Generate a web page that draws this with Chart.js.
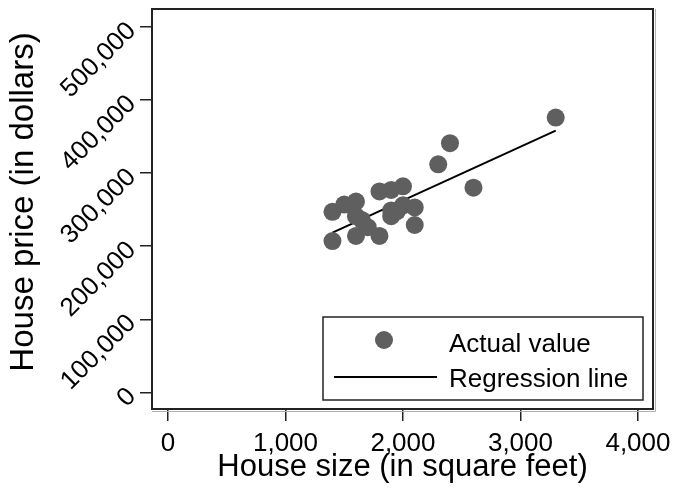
<!DOCTYPE html>
<html lang="en">
<head>
<meta charset="UTF-8">
<title>House price vs house size</title>
<script src="https://cdn.jsdelivr.net/npm/chart.js"></script>
<style>
  html, body { margin: 0; padding: 0; background: #fff; }
</style>
</head>
<body>
<canvas id="myChart" width="675" height="494"></canvas>
<script>
    // values
    var houseSize = [1400, 1400, 1500, 1600, 1600, 1650, 1600, 1800, 1800, 1900, 2000,
                     1900, 1900, 2000, 2100, 2100, 2300, 2400, 2600, 3300, 1700, 1950];
    var housePrice = [207000, 247000, 257000, 261000, 241000, 236000, 214000, 214000, 275000, 277000, 282000,
                      249000, 241000, 256000, 253000, 229000, 312000, 341000, 280000, 376000, 226000, 248000];
    var lineSize = [1400, 3300];
    var linePrice = [218600, 358000];
    var xTicks = [0, 1000, 2000, 3000, 4000];
    var yTicks = [0, 100000, 200000, 300000, 400000, 500000];
    var seriesLabels = ['Actual value', 'Regression line'];
    var yTitle = 'House price (in dollars)';

    var dotColor = '#5f5f5f';
    var font = 'Liberation Sans, Arial, sans-serif';

    function withCommas(v) {
        return String(v).replace(/\B(?=(\d{3})+(?!\d))/g, ',');
    }

    var points = houseSize.map(function (s, i) { return {x: s, y: housePrice[i]}; });
    var fitLine = lineSize.map(function (s, i) { return {x: s, y: linePrice[i]}; });

    // plot frame, y title and the legend box inside the plot
    var framePlugin = {
        id: 'frame',
        afterDraw: function (chart) {
            var ctx = chart.ctx;
            var a = chart.chartArea;
            ctx.save();
            ctx.strokeStyle = '#b0b0b0';
            ctx.lineWidth = 1;
            ctx.beginPath();
            ctx.moveTo(a.right + 2.5, a.top);
            ctx.lineTo(a.right + 2.5, a.bottom + 2.5);
            ctx.lineTo(a.left, a.bottom + 2.5);
            ctx.stroke();
            ctx.strokeStyle = '#222';
            ctx.lineWidth = 2;
            ctx.strokeRect(a.left, a.top, a.right - a.left, a.bottom - a.top);

            // y title, sits a bit above the middle of the plot
            ctx.save();
            ctx.translate(33, 202);
            ctx.rotate(-Math.PI / 2);
            ctx.fillStyle = '#000';
            ctx.font = '33px ' + font;
            ctx.textAlign = 'center';
            ctx.textBaseline = 'alphabetic';
            ctx.fillText(yTitle, 0, 0);
            ctx.restore();

            // legend
            var bx = a.left + 171, by = a.top + 308, bw = 320, bh = 83;
            ctx.fillStyle = '#fff';
            ctx.fillRect(bx, by, bw, bh);
            ctx.strokeStyle = '#222';
            ctx.lineWidth = 1.5;
            ctx.strokeRect(bx, by, bw, bh);

            ctx.fillStyle = dotColor;
            ctx.beginPath();
            ctx.arc(bx + 61, by + 23, 9, 0, Math.PI * 2);
            ctx.fill();

            ctx.strokeStyle = '#000';
            ctx.lineWidth = 2;
            ctx.beginPath();
            ctx.moveTo(bx + 11, by + 60);
            ctx.lineTo(bx + 114, by + 60);
            ctx.stroke();

            ctx.fillStyle = '#000';
            ctx.font = '26px ' + font;
            ctx.textBaseline = 'alphabetic';
            ctx.textAlign = 'left';
            ctx.fillText(seriesLabels[0], bx + 126, by + 35);
            ctx.fillText(seriesLabels[1], bx + 126, by + 70);
            ctx.restore();
        }
    };

    var config = {
        type: 'scatter',
        data: {
            datasets: [{
                label: seriesLabels[0],
                data: points,
                backgroundColor: dotColor,
                borderWidth: 0,
                pointRadius: 9,
                pointHoverRadius: 9
            }, {
                label: seriesLabels[1],
                data: fitLine,
                showLine: true,
                borderColor: '#000',
                borderWidth: 2,
                pointRadius: 0
            }]
        },
        options: {
            responsive: false,
            animation: false,
            devicePixelRatio: 1,
            layout: {padding: {top: 7, right: 22, left: 0, bottom: 0}},
            plugins: {
                legend: {display: false},
                tooltip: {enabled: false}
            },
            scales: {
                x: {
                    type: 'linear',
                    min: -136,
                    max: 4128,
                    afterBuildTicks: function (scale) {
                        scale.ticks = xTicks.map(function (v) { return {value: v}; });
                    },
                    afterFit: function (scale) {
                        scale.height = 85;
                        scale.paddingLeft = 0;
                        scale.paddingRight = 0;
                    },
                    ticks: {
                        color: '#000',
                        font: {family: font, size: 26},
                        padding: 7,
                        maxRotation: 0,
                        callback: function (v) { return withCommas(v); }
                    },
                    grid: {drawOnChartArea: false, drawTicks: true, tickLength: 12, color: '#222', lineWidth: 1.5},
                    border: {display: false},
                    title: {
                        display: true,
                        text: 'House size (in square feet)',
                        color: '#000',
                        font: {family: font, size: 31},
                        padding: {top: 0, bottom: 8}
                    }
                },
                y: {
                    type: 'linear',
                    min: -22700,
                    max: 524500,
                    afterBuildTicks: function (scale) {
                        scale.ticks = yTicks.map(function (v) { return {value: v}; });
                    },
                    afterFit: function (scale) {
                        scale.width = 152;
                        scale.paddingTop = 0;
                        scale.paddingBottom = 0;
                    },
                    ticks: {
                        color: '#000',
                        font: {family: font, size: 26},
                        padding: 8,
                        minRotation: 45,
                        maxRotation: 45,
                        callback: function (v) { return withCommas(v); }
                    },
                    grid: {drawOnChartArea: false, drawTicks: true, tickLength: 12, color: '#222', lineWidth: 1.5},
                    border: {display: false},
                    title: {display: false}
                }
            }
        },
        plugins: [framePlugin]
    };

    window.onload = function () {
        var ctx = document.getElementById('myChart').getContext('2d');
        window.myScatter = new Chart(ctx, config);
    };
</script>
</body>
</html>
